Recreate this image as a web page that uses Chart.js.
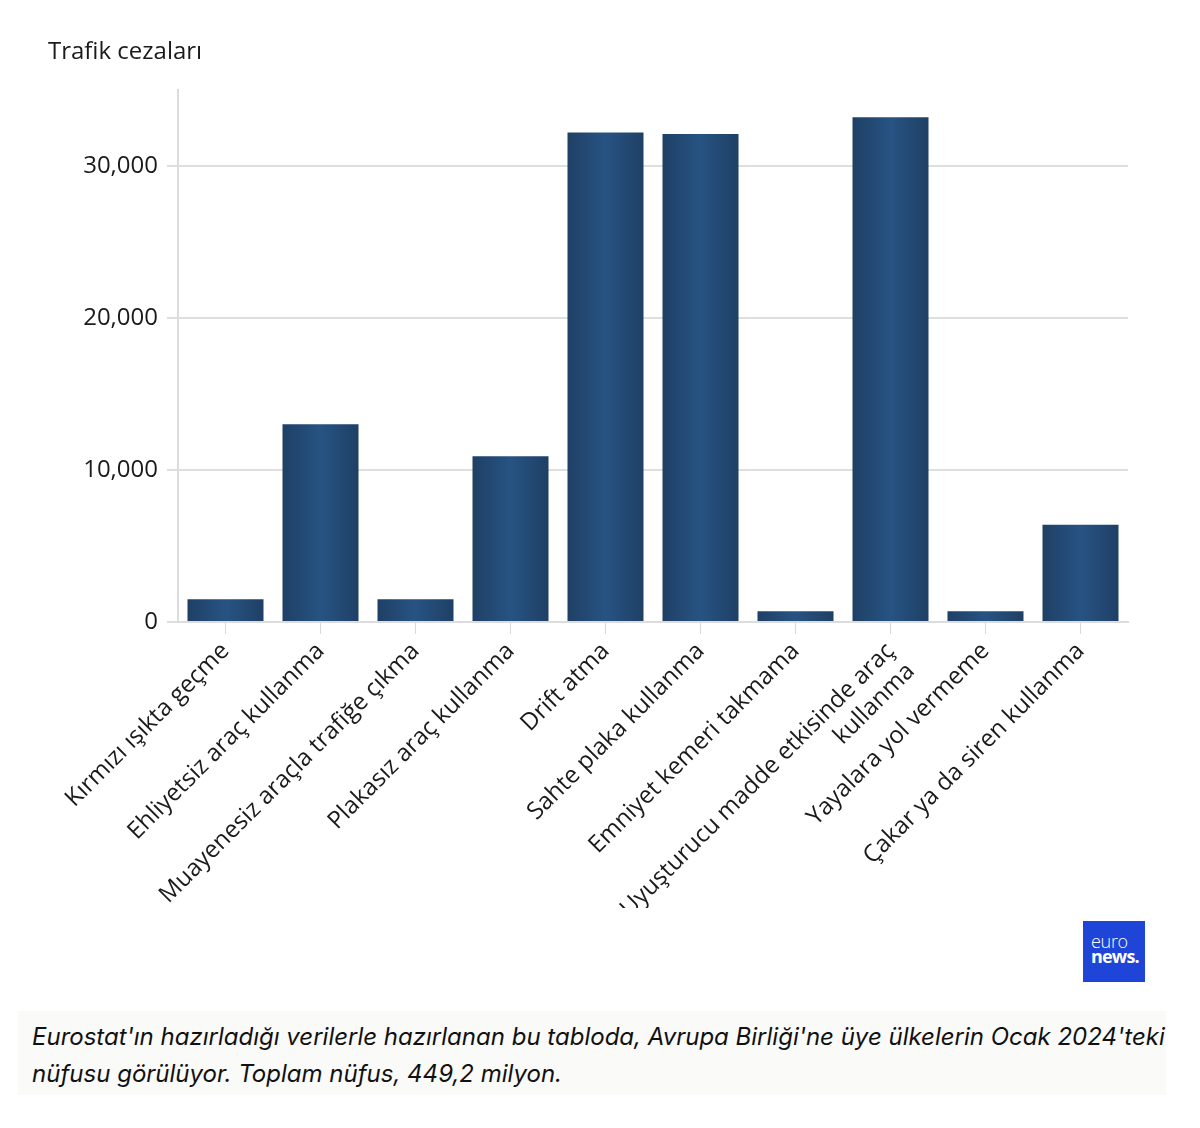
<!DOCTYPE html>
<html><head><meta charset="utf-8">
<script src="https://cdn.jsdelivr.net/npm/chart.js@4.4.1/dist/chart.umd.min.js"></script>
<style>
html,body{margin:0;padding:0;background:#fff;width:1200px;height:1128px;overflow:hidden;}
#wrap{position:absolute;left:0;top:0;width:1200px;height:908px;}
#logo{position:absolute;left:1083px;top:921px;width:62px;height:61px;background:#1e44d8;color:#fff;font-family:'Open Sans',sans-serif;}
#logo .a{position:absolute;left:8px;top:12px;font-size:18px;font-weight:300;line-height:16px;letter-spacing:-0.3px;}
#logo .b{position:absolute;left:8px;top:27px;font-size:18px;font-weight:700;line-height:16px;letter-spacing:-0.8px;}
#caption{position:absolute;left:18px;top:1011px;width:1148px;height:84px;background:#fafaf9;}
#caption p{margin:0;position:absolute;left:14px;top:7px;font:italic 24px Inter,sans-serif;line-height:37px;color:#111;white-space:nowrap;}
</style></head>
<body>
<div id="wrap"><canvas id="c"></canvas></div>
<div id="logo"><div class="a">euro</div><div class="b">news.</div></div>
<div id="caption"><p>Eurostat'ın hazırladığı verilerle hazırlanan bu tabloda, Avrupa Birliği'ne üye ülkelerin Ocak 2024'teki<br>nüfusu görülüyor. Toplam nüfus, 449,2 milyon.</p></div>
<script>
const chartTitle = "Trafik cezaları";
const categories = [
  "Kırmızı ışıkta geçme",
  "Ehliyetsiz araç kullanma",
  "Muayenesiz araçla trafiğe çıkma",
  "Plakasız araç kullanma",
  "Drift atma",
  "Sahte plaka kullanma",
  "Emniyet kemeri takmama",
  ["Uyuşturucu madde etkisinde araç", "kullanma"],
  "Yayalara yol vermeme",
  "Çakar ya da siren kullanma"
];
const values = [1500, 13000, 1500, 10900, 32200, 32100, 700, 33200, 700, 6400];
const yTicks = [0, 10000, 20000, 30000];
const yMax = 35000;

function barFill(ctx) {
  const chart = ctx.chart;
  const xs = chart.scales && chart.scales.x;
  if (!xs || !chart.chartArea || ctx.type !== 'data') return '#234b76';
  const cx = xs.getPixelForValue(ctx.dataIndex);
  const half = (xs.width / categories.length) * 0.8 / 2;
  const g = chart.ctx.createLinearGradient(cx - half, 0, cx + half, 0);
  g.addColorStop(0, '#1f4065');
  g.addColorStop(0.5, '#275383');
  g.addColorStop(1, '#1f4065');
  return g;
}

new Chart(document.getElementById('c'), {
  type: 'bar',
  data: {
    labels: categories,
    datasets: [{ data: values, backgroundColor: barFill, borderWidth: 0, barPercentage: 0.8, categoryPercentage: 1 }]
  },
  options: {
    responsive: true,
    maintainAspectRatio: false,
    animation: false,
    layout: { padding: { left: 48, right: 72, top: 0, bottom: 0 } },
    plugins: {
      legend: { display: false },
      tooltip: { enabled: false },
      title: {
        display: true, text: chartTitle, align: 'start', color: '#1a1a1a',
        font: { family: 'Open Sans', size: 24, weight: 'normal' },
        padding: { top: 38, bottom: 23 }
      }
    },
    scales: {
      x: {
        grid: { display: true, drawOnChartArea: false, drawTicks: true, tickLength: 12, color: '#d8d8d8', offset: false },
        border: { display: true, color: '#dcdcdc', width: 2 },
        ticks: {
          autoSkip: false, minRotation: 45, maxRotation: 45, padding: 3,
          color: '#1a1a1a', font: { family: 'Open Sans', size: 24 }
        },
        afterFit: (s) => { s.height = 286; }
      },
      y: {
        min: 0, max: yMax,
        grid: { color: '#dedede', lineWidth: 2, tickLength: 11 },
        border: { display: true, color: '#dcdcdc', width: 2 },
        ticks: {
          padding: 9, color: '#1a1a1a', font: { family: 'Open Sans', size: 24 },
          callback: (v) => Number(v).toLocaleString('en-US')
        },
        afterBuildTicks: (s) => { s.ticks = yTicks.map(v => ({ value: v })); },
        afterFit: (s) => { s.width = 130; }
      }
    }
  }
});
</script>
</body></html>
